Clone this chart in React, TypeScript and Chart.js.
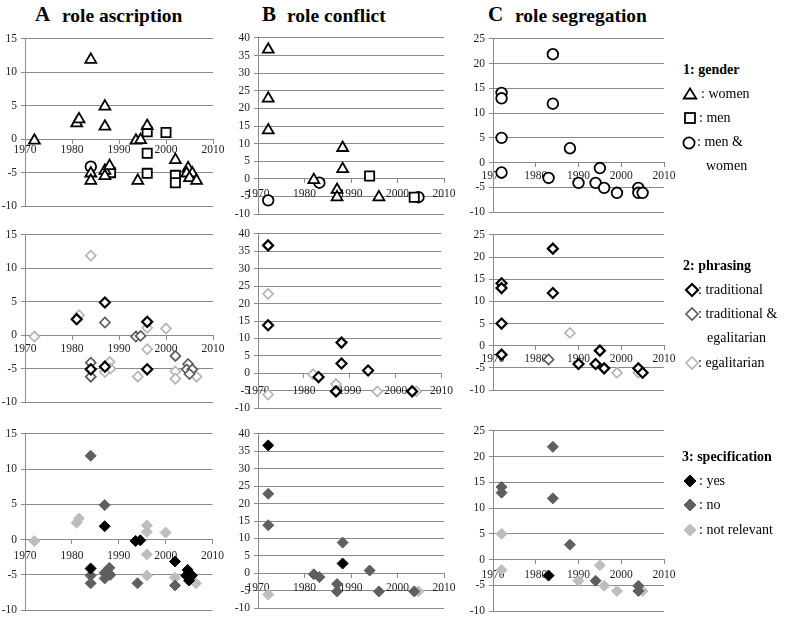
import React, { useEffect, useRef } from 'react';
import { Chart, registerables } from 'chart.js';
Chart.register(...registerables);

const FONT = "'Liberation Serif', 'Times New Roman', serif";
const GRID = '#8a8a8a';
const TICK_COLOR = '#1f1f1f';

// ---------- DATA ----------
// Column A: role ascription
const yearsA = [1972, 1984, 1981, 1981.5, 1987, 1987, 1984, 1984, 1984, 1987, 1987, 1988, 1988.2, 1993.6, 1994.6, 1996, 1996, 2000, 1996, 1996, 1994, 2002, 2002, 2002, 2004.7, 2004.4, 2005.6, 2005, 2006.5];
const valuesA = [-0.2, 11.9, 2.4, 3.0, 4.9, 1.9, -4.1, -5.1, -6.2, -4.7, -5.5, -4.0, -5.0, -0.2, -0.1, 2.0, 1.1, 1.0, -2.1, -5.1, -6.2, -3.1, -5.4, -6.5, -4.3, -5.1, -5.1, -5.8, -6.2];
const genderA = ['W', 'W', 'W', 'W', 'W', 'W', 'MW', 'W', 'W', 'W', 'W', 'W', 'M', 'W', 'W', 'W', 'M', 'M', 'M', 'M', 'W', 'W', 'M', 'M', 'W', 'W', 'W', 'W', 'W'];
const phrasingA = ['E', 'E', 'T', 'E', 'T', 'TE', 'TE', 'T', 'TE', 'T', 'E', 'E', 'E', 'TE', 'TE', 'T', 'E', 'E', 'E', 'T', 'E', 'TE', 'E', 'E', 'TE', 'TE', 'TE', 'TE', 'E'];
const specA = ['NR', 'No', 'NR', 'NR', 'No', 'Yes', 'Yes', 'No', 'No', 'No', 'No', 'No', 'No', 'Yes', 'Yes', 'NR', 'NR', 'NR', 'NR', 'NR', 'No', 'Yes', 'NR', 'No', 'Yes', 'Yes', 'Yes', 'Yes', 'NR'];

// Column B: role conflict
const yearsB = [1972.2, 1972.2, 1972.2, 1972.2, 1988.2, 1988.2, 1994, 1982, 1983.2, 1987, 1987, 1996, 2003.6, 2004.5];
const valuesB = [36.7, 22.8, 13.8, -6.1, 8.8, 2.8, 0.8, -0.3, -1.1, -3.1, -5.2, -5.2, -5.2, -5.2];
const genderB = ['W', 'W', 'W', 'MW', 'W', 'W', 'M', 'W', 'MW', 'W', 'W', 'W', 'M', 'MW'];
const phrasingB = ['T', 'E', 'T', 'E', 'T', 'T', 'T', 'E', 'T', 'E', 'T', 'E', 'T', 'E'];
const specB = ['Yes', 'No', 'No', 'NR', 'No', 'Yes', 'No', 'No', 'No', 'No', 'No', 'No', 'No', 'NR'];

// Column C: role segregation
const yearsC = [1972, 1972, 1972, 1972, 1984, 1984, 1983, 1988, 1990, 1994, 1995, 1996, 1999, 2004, 2004, 2005];
const valuesC = [14.1, 13.0, 5.0, -2.0, 21.9, 11.9, -3.1, 2.9, -4.1, -4.1, -1.1, -5.1, -6.1, -5.1, -6.1, -6.1];
const genderC = ['MW', 'MW', 'MW', 'MW', 'MW', 'MW', 'MW', 'MW', 'MW', 'MW', 'MW', 'MW', 'MW', 'MW', 'MW', 'MW'];
const phrasingC = ['T', 'T', 'T', 'T', 'T', 'T', 'TE', 'E', 'T', 'T', 'T', 'T', 'E', 'T', 'E', 'T'];
const specC = ['No', 'No', 'NR', 'NR', 'No', 'No', 'Yes', 'No', 'NR', 'No', 'NR', 'NR', 'NR', 'No', 'No', 'NR'];

const xRange = [1970, 2010];
const yRangeA = [-10, 15];
const yRangeB = [-10, 40];
const yRangeC = [-10, 25];

const columnTitles = [
  { letter: 'A', text: 'role ascription' },
  { letter: 'B', text: 'role conflict' },
  { letter: 'C', text: 'role segregation' },
];

// ---------- STYLES ----------
type St = { shape: string; r: number; stroke: string; fill: string; lw: number };
const genderStyle: Record<string, St> = {
  W: { shape: 'triangle', r: 6.3, stroke: '#000', fill: '#fff', lw: 1.8 },
  M: { shape: 'rect', r: 6.5, stroke: '#000', fill: '#fff', lw: 1.8 },
  MW: { shape: 'circle', r: 5.3, stroke: '#000', fill: '#fff', lw: 1.8 },
};
const phrasingStyle: Record<string, St> = {
  T: { shape: 'rectRot', r: 5, stroke: '#000', fill: '#fff', lw: 2.2 },
  TE: { shape: 'rectRot', r: 5, stroke: '#5c5c5c', fill: '#fff', lw: 1.7 },
  E: { shape: 'rectRot', r: 5, stroke: '#b5b5b5', fill: '#fff', lw: 1.7 },
};
const specStyle: Record<string, St> = {
  Yes: { shape: 'rectRot', r: 5.5, stroke: '#000', fill: '#000', lw: 1 },
  No: { shape: 'rectRot', r: 5.5, stroke: '#5f5f5f', fill: '#5f5f5f', lw: 1 },
  NR: { shape: 'rectRot', r: 5.5, stroke: '#bdbdbd', fill: '#bdbdbd', lw: 1 },
};

type PanelDef = {
  id: string;
  plotLeft: number; plotRight: number; plotTop: number; plotBottom: number;
  yw: number; yRange: number[];
  years: number[]; values: number[]; codes: string[];
  styles: Record<string, St>; order: string[];
  xGap: number;
};

const PT = 10, PB = 10, PR = 16;

function ScatterPanel({ p }: { p: PanelDef }) {
  const ref = useRef<HTMLCanvasElement>(null);
  const w = p.yw + (p.plotRight - p.plotLeft) + PR;
  const h = (p.plotBottom - p.plotTop) + PT + PB;
  useEffect(() => {
    const datasets = p.order.map((code) => {
      const st = p.styles[code];
      const pts = p.years
        .map((x, i) => ({ x, y: p.values[i], c: p.codes[i] }))
        .filter((d) => d.c === code)
        .map((d) => ({ x: d.x, y: d.y }));
      return {
        label: code,
        data: pts,
        showLine: false,
        pointStyle: st.shape,
        pointRadius: st.r,
        pointHoverRadius: st.r,
        pointBorderColor: st.stroke,
        pointBackgroundColor: st.fill,
        pointBorderWidth: st.lw,
        borderColor: st.stroke,
        backgroundColor: st.fill,
      };
    });
    const font = { family: FONT, size: 11.5 };
    const chart = new Chart(ref.current as HTMLCanvasElement, {
      type: 'scatter',
      data: { datasets } as any,
      options: {
        animation: false,
        responsive: false,
        maintainAspectRatio: false,
        events: [],
        layout: { padding: { left: 0, top: PT, right: PR, bottom: PB } },
        plugins: { legend: { display: false }, tooltip: { enabled: false } },
        scales: {
          x: {
            type: 'linear',
            min: xRange[0],
            max: xRange[1],
            position: { y: 0 } as any,
            ticks: {
              stepSize: 10, font, color: TICK_COLOR, padding: p.xGap, maxRotation: 0, autoSkip: false,
              callback: (v: any) => String(v),
            },
            grid: { drawOnChartArea: false, drawTicks: true, tickLength: 4, color: GRID },
            border: { display: true, color: GRID },
          },
          y: {
            type: 'linear',
            min: p.yRange[0],
            max: p.yRange[1],
            position: 'left',
            afterFit: (s: any) => { s.width = p.yw; },
            ticks: {
              stepSize: 5, font, color: TICK_COLOR, padding: 4, autoSkip: false,
              callback: (v: any) => String(v),
            },
            grid: { color: GRID, lineWidth: 1, tickLength: 4, drawTicks: true },
            border: { display: true, color: GRID },
          },
        } as any,
      },
    });
    return () => chart.destroy();
  }, []);
  return (
    <canvas
      ref={ref}
      width={w}
      height={h}
      style={{ position: 'absolute', left: p.plotLeft - p.yw, top: p.plotTop - PT, width: w, height: h }}
    />
  );
}

const colGeom = [
  { left: 25, right: 213, yw: 25, yRange: yRangeA, years: yearsA, values: valuesA, codes: [genderA, phrasingA, specA], rows: [[38, 207], [234, 403], [433, 611]], gaps: [0, 3, 5] },
  { left: 258, right: 444, yw: 30, yRange: yRangeB, years: yearsB, values: valuesB, codes: [genderB, phrasingB, specB], rows: [[37, 215], [233, 409], [433, 609]], gaps: [4, 7, 4] },
  { left: 493, right: 664, yw: 30, yRange: yRangeC, years: yearsC, values: valuesC, codes: [genderC, phrasingC, specC], rows: [[38, 213], [234, 391], [430, 612]], gaps: [2, 2, 4] },
];
const rowStyles = [genderStyle, phrasingStyle, specStyle];
const rowOrders = [['W', 'M', 'MW'], ['T', 'TE', 'E'], ['Yes', 'No', 'NR']];

const panels: PanelDef[] = [];
colGeom.forEach((c, ci) => {
  c.rows.forEach((r, ri) => {
    panels.push({
      id: `p${ci}${ri}`,
      plotLeft: c.left, plotRight: c.right, plotTop: r[0], plotBottom: r[1],
      yw: c.yw, yRange: c.yRange,
      years: c.years, values: c.values, codes: c.codes[ri],
      styles: rowStyles[ri], order: rowOrders[ri],
      xGap: c.gaps[ri],
    });
  });
});

// ---------- LEGEND HELPERS ----------
function Txt({ x, base, size = 14, bold = false, children }: any) {
  const top = base - size * 0.837;
  return (
    <div style={{ position: 'absolute', left: x, top, fontSize: size, lineHeight: `${size}px`, fontWeight: bold ? 'bold' : 'normal', whiteSpace: 'nowrap', color: '#000', fontFamily: FONT }}>
      {children}
    </div>
  );
}

function Sym({ cx, cy, kind, stroke, fill, lw }: any) {
  const s = 16;
  let el: any = null;
  if (kind === 'triangle') {
    el = <polygon points={`8,1.5 14.3,11.5 1.7,11.5`} fill={fill} stroke={stroke} strokeWidth={lw} />;
  } else if (kind === 'rect') {
    el = <rect x={3} y={3} width={10} height={10} fill={fill} stroke={stroke} strokeWidth={lw} />;
  } else if (kind === 'circle') {
    el = <circle cx={8} cy={8} r={5.6} fill={fill} stroke={stroke} strokeWidth={lw} />;
  } else {
    el = <polygon points={`8,2 14,8 8,14 2,8`} fill={fill} stroke={stroke} strokeWidth={lw} />;
  }
  const off = kind === 'triangle' ? 7.5 : 8;
  return (
    <svg width={s} height={s} style={{ position: 'absolute', left: cx - 8, top: cy - off }}>
      {el}
    </svg>
  );
}

export default function App() {
  return (
    <div style={{ position: 'absolute', left: 0, top: 0, width: 788, height: 619, background: '#fff', overflow: 'hidden', fontFamily: FONT }}>
      {/* Titles */}
      {columnTitles.map((t, i) => {
        const pos = [[35, 62], [262, 287], [488, 515]][i];
        return (
          <React.Fragment key={t.letter}>
            <Txt x={pos[0]} base={22} size={21} bold>{t.letter}</Txt>
            <Txt x={pos[1]} base={22} size={19.5} bold>{t.text}</Txt>
          </React.Fragment>
        );
      })}

      {panels.map((p) => <ScatterPanel key={p.id} p={p} />)}

      {/* Legend 1 */}
      <Txt x={683} base={75} bold>1: gender</Txt>
      <Sym cx={690} cy={94} kind="triangle" stroke="#000" fill="#fff" lw={1.8} />
      <Txt x={701} base={99}>: women</Txt>
      <Sym cx={690} cy={118} kind="rect" stroke="#000" fill="#fff" lw={1.8} />
      <Txt x={699} base={123}>: men</Txt>
      <Sym cx={689} cy={143} kind="circle" stroke="#000" fill="#fff" lw={1.8} />
      <Txt x={697} base={147}>: men &amp;</Txt>
      <Txt x={706} base={171}>women</Txt>

      {/* Legend 2 */}
      <Txt x={683} base={271} bold>2: phrasing</Txt>
      <Sym cx={692} cy={290} kind="diamond" stroke="#000" fill="#fff" lw={2.2} />
      <Txt x={698} base={295}>: traditional</Txt>
      <Sym cx={692} cy={314} kind="diamond" stroke="#5c5c5c" fill="#fff" lw={1.7} />
      <Txt x={698} base={319}>: traditional &amp;</Txt>
      <Txt x={707} base={343}>egalitarian</Txt>
      <Sym cx={692} cy={363} kind="diamond" stroke="#b5b5b5" fill="#fff" lw={1.7} />
      <Txt x={698} base={368}>: egalitarian</Txt>

      {/* Legend 3 */}
      <Txt x={682} base={462} bold>3: specification</Txt>
      <Sym cx={690} cy={481} kind="diamond" stroke="#000" fill="#000" lw={1} />
      <Txt x={699} base={486}>: yes</Txt>
      <Sym cx={690} cy={505} kind="diamond" stroke="#5f5f5f" fill="#5f5f5f" lw={1} />
      <Txt x={699} base={510}>: no</Txt>
      <Sym cx={690} cy={530} kind="diamond" stroke="#bdbdbd" fill="#bdbdbd" lw={1} />
      <Txt x={699} base={535}>: not relevant</Txt>
    </div>
  );
}
